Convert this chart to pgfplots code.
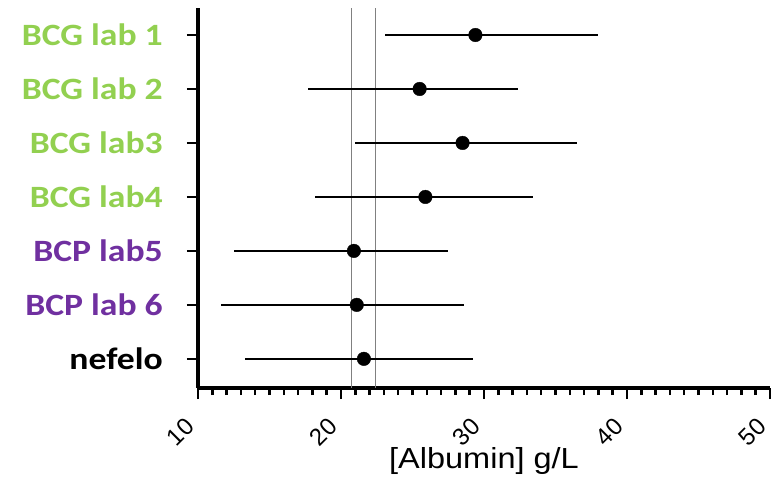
\documentclass[border=0pt]{standalone}
\usepackage{pgfplots}
\pgfplotsset{compat=1.18}
\usepackage{fontspec}
\setmainfont{Liberation Sans}
\newfontfamily\calfont{Carlito}
\newfontfamily\arialfont{Liberation Sans}
\definecolor{bcg}{RGB}{146,208,80}
\definecolor{bcp}{RGB}{112,48,160}
\definecolor{refgray}{RGB}{128,128,128}
\begin{document}
\begin{tikzpicture}
\begin{axis}[
  name=ax,
  scale only axis,
  width=572pt, height=380pt,
  xmin=10, xmax=50,
  ymin=0.5, ymax=7.54,
  y dir=reverse,
  axis x line*=bottom,
  axis y line*=left,
  axis line style={line width=3.5pt, -},
  every tick/.style={black, line width=2.5pt},
  tick align=outside,
  major tick length=11pt,
  minor tick length=7pt,
  xtick={10,20,30,40,50},
  minor x tick num=9,
  ytick={1,2,3,4,5,6,7},
  yticklabels={{\color{bcg}BCG lab 1},{\color{bcg}BCG lab 2},{\color{bcg}BCG lab3},{\color{bcg}BCG lab4},{\color{bcp}BCP lab5},{\color{bcp}BCP lab 6},{\color{black}nefelo}},
  yticklabel style={font=\fontsize{31}{31}\selectfont\calfont\bfseries, anchor=east, inner sep=0pt, xshift=-24pt, xscale=1.15},
  xticklabel style={font=\fontsize{24}{24}\selectfont\arialfont, anchor=north east, inner sep=0pt, xshift=-14pt, yshift=-17pt, rotate=45},
  /pgf/number format/assume math mode=true,
  xlabel={[Albumin] g/L},
  xlabel style={font=\fontsize{29}{29}\selectfont\arialfont, at={(axis description cs:0.5,0)}, anchor=north, inner sep=0pt, yshift=-59pt, xscale=1.12},
]
\addplot[refgray, line width=1.5pt, forget plot] coordinates {(20.75,0.5) (20.75,7.54)};
\addplot[refgray, line width=1.5pt, forget plot] coordinates {(22.4,0.5) (22.4,7.54)};
\addplot[only marks, mark=*, mark size=6.8pt, black,
  error bars/.cd, x dir=both, x explicit, error mark=none,
  error bar style={line width=2pt, black}]
  coordinates {
  (29.4,1) -= (6.3,0) += (8.6,0)
  (25.5,2) -= (7.8,0) += (6.9,0)
  (28.5,3) -= (7.5,0) += (8.0,0)
  (25.9,4) -= (7.7,0) += (7.5,0)
  (20.9,5) -= (8.4,0) += (6.6,0)
  (21.1,6) -= (9.5,0) += (7.5,0)
  (21.6,7) -= (8.3,0) += (7.6,0)
  };
\end{axis}
\pgfresetboundingbox
\path ([xshift=-198pt,yshift=-91pt]ax.south west) rectangle ([xshift=14pt,yshift=8pt]ax.north east);
\end{tikzpicture}
\end{document}
